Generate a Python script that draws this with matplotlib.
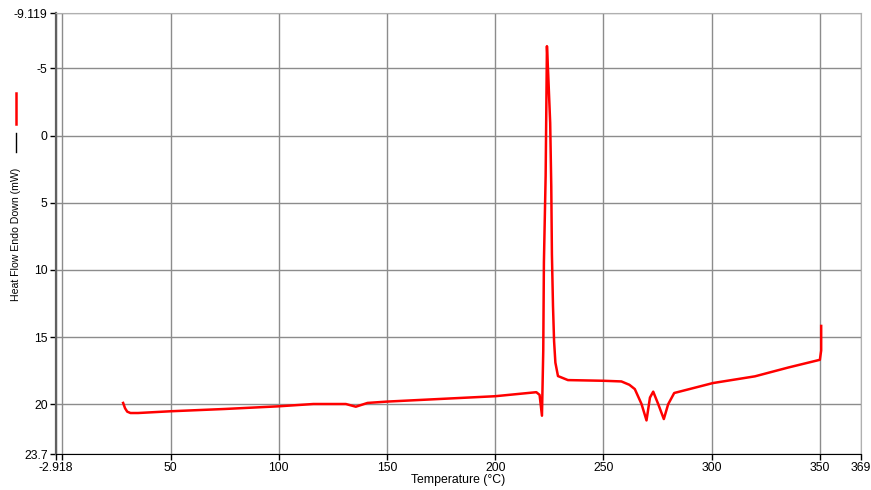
import matplotlib.pyplot as plt
from matplotlib.lines import Line2D

plt.rcParams['font.family'] = ['Liberation Sans', 'DejaVu Sans']

# DSC curve
temp = [28.1, 29.0, 30.0, 31.5, 35, 50, 75, 100, 116, 131, 135.6, 141, 150, 175, 200,
        219, 220.5, 221.6, 222.2, 222.5, 223.3, 223.9, 224.5, 225.4, 225.9, 226.2,
        226.7, 227.2, 227.8, 229, 233.6, 250, 258.3, 262, 264.5, 267.6, 269.9, 271.5,
        273, 275.3, 277.9, 279.9, 282.7, 300.6, 320, 335.5, 350.0, 350.6, 350.6]
heat = [19.9, 20.3, 20.55, 20.65, 20.65, 20.52, 20.35, 20.15, 19.98, 19.98, 20.18, 19.9,
        19.8, 19.6, 19.4, 19.1, 19.3, 20.85, 16.0, 9.45, 3.0, -6.65, -4.5, -0.94,
        3.78, 8.85, 12.7, 15.3, 16.9, 17.9, 18.2, 18.25, 18.3, 18.55, 18.87, 19.98, 21.2,
        19.5, 19.06, 19.98, 21.1, 20.0, 19.16, 18.42, 17.92, 17.26, 16.69, 16.0, 14.17]

x_ticks = [-2.918, 0, 50, 100, 150, 200, 250, 300, 350, 369]
x_labels = ['-2.918', '', '50', '100', '150', '200', '250', '300', '350', '369']
y_ticks = [-9.119, -5, 0, 5, 10, 15, 20, 23.7]
y_labels = ['-9.119', '-5', '0', '5', '10', '15', '20', '23.7']

W, H = 871, 490
fig = plt.figure(figsize=(W / 100, H / 100), dpi=100)
ax = fig.add_axes([56 / W, 1 - 454 / H, (861 - 56) / W, (454 - 13) / H])

ax.plot(temp, heat, color='#ff0000', lw=1.8, zorder=3)

ax.set_xlim(-2.918, 369)
ax.set_ylim(23.7, -9.119)
ax.set_xticks(x_ticks)
ax.set_xticklabels(x_labels)
ax.set_yticks(y_ticks)
ax.set_yticklabels(y_labels)
ax.tick_params(labelsize=8.8, length=4, width=1, colors='black', pad=2)
ax.grid(True, color='#8c8c8c', lw=1)

ax.spines['left'].set_color('#606060')
ax.spines['left'].set_linewidth(1.6)
ax.spines['bottom'].set_color('black')
ax.spines['top'].set_color('#b0b0b0')
ax.spines['right'].set_color('#b0b0b0')

ax.set_xlabel('Temperature (°C)', fontsize=8.8, labelpad=0)

fig.text(16 / W, 1 - 234 / H, 'Heat Flow Endo Down (mW)', rotation=90,
         ha='center', va='center', fontsize=7.6)
fig.add_artist(Line2D([16 / W, 16 / W], [1 - 93 / H, 1 - 124 / H], color='#ff0000', lw=1.8))
fig.add_artist(Line2D([16 / W, 16 / W], [1 - 133 / H, 1 - 152 / H], color='black', lw=1))

fig.savefig('out.png', dpi=100)
